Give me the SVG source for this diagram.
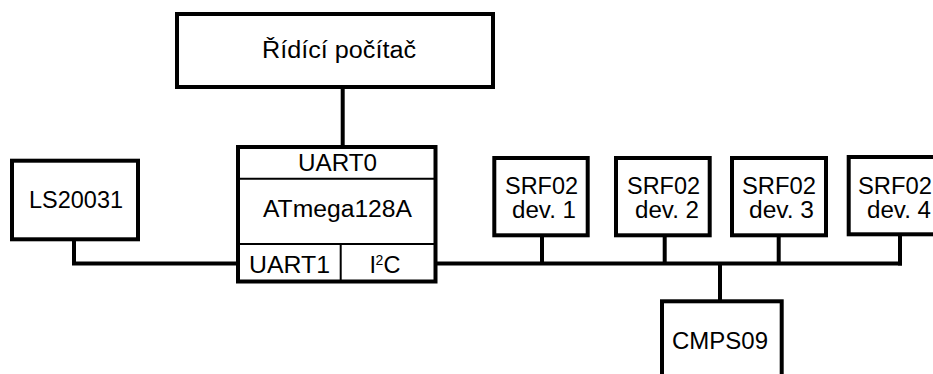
<svg xmlns="http://www.w3.org/2000/svg" width="933" height="374" viewBox="0 0 933 374">
<style>
.box{fill:#fff;stroke:#000;stroke-width:4}
.div{fill:none;stroke:#000;stroke-width:2}
.wire{fill:none;stroke:#000;stroke-width:4;stroke-linejoin:miter;stroke-linecap:butt}
text{font-family:"Liberation Sans",Arial,sans-serif;font-size:23.5px;fill:#000}
</style>
<rect width="933" height="374" fill="#fff"/>
<g id="connectors">
<path class="wire" d="M342.7 87 V147"/>
<path class="wire" d="M74 239 V263.5 H238"/>
<path class="wire" d="M435.5 263.5 H902"/>
<path class="wire" d="M542 235 V263.5"/>
<path class="wire" d="M664.7 235 V263.5"/>
<path class="wire" d="M778.7 235 V263.5"/>
<path class="wire" d="M900 234 V265.5"/>
<path class="wire" d="M720 263.5 V301"/>
</g>
<g id="pc">
<rect class="box" x="177" y="14" width="316" height="73"/>
<text x="262" y="57.5" textLength="154" lengthAdjust="spacingAndGlyphs">Řídící počítač</text>
</g>
<g id="atmega">
<rect class="box" x="238" y="147" width="197.5" height="134.5"/>
<path class="div" d="M239 178.7 H434.5 M239 244 H434.5 M340.7 244 V280.5"/>
<text x="298" y="171" textLength="79" lengthAdjust="spacingAndGlyphs">UART0</text>
<text x="263" y="216.5" textLength="149" lengthAdjust="spacingAndGlyphs">ATmega128A</text>
<text x="249" y="272.5" textLength="81" lengthAdjust="spacingAndGlyphs">UART1</text>
<text><tspan x="369.5" y="272.5">I</tspan><tspan x="375.5" y="265" style="font-size:14px">2</tspan><tspan x="383.5" y="272.5">C</tspan></text>
</g>
<g id="ls20031">
<rect class="box" x="12" y="160.7" width="126" height="78.6"/>
<text x="29" y="208.3" textLength="94" lengthAdjust="spacingAndGlyphs">LS20031</text>
</g>
<g id="srf1">
<rect class="box" x="494.3" y="158" width="93.4" height="77.3"/>
<text x="505" y="194" textLength="73" lengthAdjust="spacingAndGlyphs">SRF02</text>
<text x="512" y="218.3" textLength="64" lengthAdjust="spacingAndGlyphs">dev. 1</text>
</g>
<g id="srf2">
<rect class="box" x="616" y="158" width="93.7" height="77.3"/>
<text x="627" y="194" textLength="73" lengthAdjust="spacingAndGlyphs">SRF02</text>
<text x="635" y="218.3" textLength="64" lengthAdjust="spacingAndGlyphs">dev. 2</text>
</g>
<g id="srf3">
<rect class="box" x="732" y="158" width="94" height="77.3"/>
<text x="742" y="194" textLength="74" lengthAdjust="spacingAndGlyphs">SRF02</text>
<text x="749" y="218.3" textLength="65" lengthAdjust="spacingAndGlyphs">dev. 3</text>
</g>
<g id="srf4">
<rect class="box" x="848.7" y="157" width="94" height="77.3"/>
<text x="858" y="194" textLength="74" lengthAdjust="spacingAndGlyphs">SRF02</text>
<text x="867" y="218.3" textLength="64" lengthAdjust="spacingAndGlyphs">dev. 4</text>
</g>
<g id="cmps09">
<rect class="box" x="662" y="301.3" width="119.7" height="90"/>
<text x="672" y="348.5" textLength="96" lengthAdjust="spacingAndGlyphs">CMPS09</text>
</g>
</svg>
